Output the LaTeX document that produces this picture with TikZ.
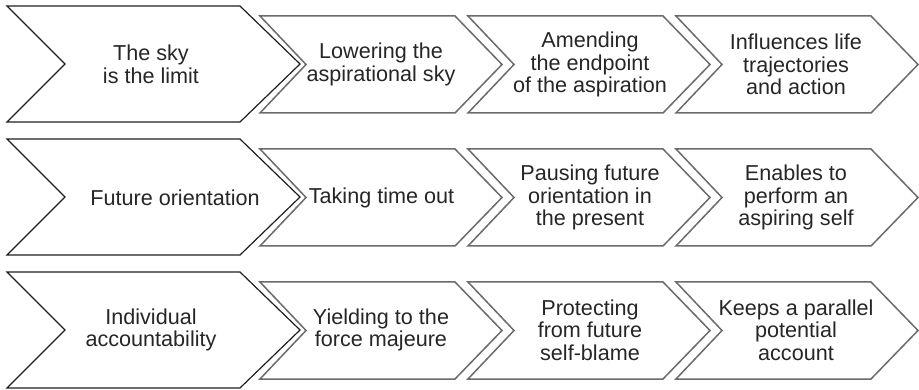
\documentclass[tikz,border=0pt]{standalone}
\usepackage{fontspec}
\setmainfont{Liberation Sans}
\newcommand\BigChev[1]{%
  \draw[bigchev] (7,#1) -- (240,#1) -- (300,#1+58) -- (240,#1+116) -- (7,#1+116) -- (65,#1+58) -- cycle;}
\newcommand\SmallChev[2]{%
  \draw[smallchev] (#1,#2) -- (#1+195,#2) -- (#1+242,#2+48.5) -- (#1+195,#2+97) -- (#1,#2+97) -- (#1+46,#2+48.5) -- cycle;}
\tikzset{
  bigchev/.style={draw=black!88, line width=1.2pt, fill=white, line join=miter},
  smallchev/.style={draw=black!58, line width=1.5pt, fill=white, line join=miter},
  lbl/.style={align=center, font=\fontsize{21.6}{22.5}\selectfont, text=black!85, inner sep=0pt}
}
\begin{document}
\begin{tikzpicture}[x=1pt,y=-1pt]
\useasboundingbox (0,0) rectangle (919,390);
% row 1
\BigChev{6}
\SmallChev{260}{16}
\SmallChev{468}{16}
\SmallChev{676}{16}
\node[lbl] (a0) at (151,64.5) {The sky\\is the limit};
\node[lbl] (a1) at (381,64.5) {Lowering the\\aspirational sky};
\node[lbl] (a2) at (590,64.5) {Amending\\the endpoint\\of the aspiration};
\node[lbl] (a3) at (796,64.5) {Influences life\\trajectories\\and action};
% row 2
\BigChev{139}
\SmallChev{260}{149}
\SmallChev{468}{149}
\SmallChev{676}{149}
\node[lbl] (b0) at (175,197.5) {Future orientation};
\node[lbl] (b1) at (381.5,197.5) {Taking time out};
\node[lbl] (b2) at (590,197.5) {Pausing future\\orientation in\\the present};
\node[lbl] (b3) at (796,197.5) {Enables to\\perform an\\aspiring self};
% row 3
\BigChev{272}
\SmallChev{260}{282}
\SmallChev{468}{282}
\SmallChev{676}{282}
\node[lbl] (c0) at (151,330) {Individual\\accountability};
\node[lbl] (c1) at (381,330) {Yielding to the\\force majeure};
\node[lbl] (c2) at (590,330) {Protecting\\from future\\self-blame};
\node[lbl] (c3) at (796,330) {Keeps a parallel\\potential\\account};
\end{tikzpicture}
\end{document}
